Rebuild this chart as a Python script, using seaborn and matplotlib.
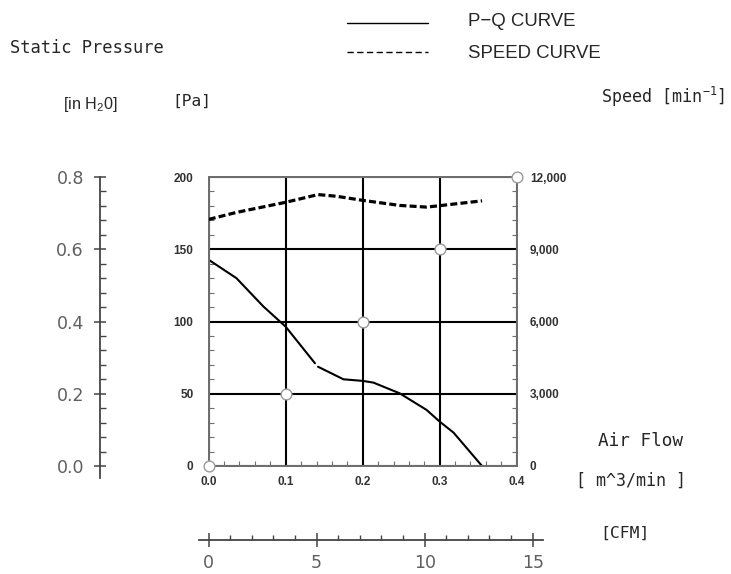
import numpy as np
import pandas as pd
import seaborn as sns
import matplotlib
matplotlib.use("Agg")
import matplotlib.pyplot as plt
from matplotlib.lines import Line2D
from matplotlib.ticker import MultipleLocator, FixedLocator, StrMethodFormatter

# P-Q curve (air flow m^3/min -> static pressure Pa), drawn in two pieces (small gap near 0.14)
pq_flow_a = [0.0, 0.036, 0.071, 0.100, 0.138]
pq_pa_a = [142.7, 130.0, 110.4, 96.4, 71.1]
pq_flow_b = [0.142, 0.175, 0.200, 0.214, 0.248, 0.283, 0.300, 0.318, 0.355]
pq_pa_b = [68.7, 60.0, 58.9, 57.7, 50.3, 38.8, 30.7, 23.1, 0.0]

# speed curve (air flow -> rpm)
speed_flow = [0.0, 0.036, 0.100, 0.142, 0.166, 0.200, 0.248, 0.283, 0.300, 0.355]
speed_rpm = [10240, 10530, 10950, 11270, 11200, 11030, 10820, 10750, 10810, 11010]

# open circles on the grid
circle_flow = [0.0, 0.1, 0.2, 0.3, 0.4]
circle_pa = [0, 50, 100, 150, 200]

pa_ticks = [0, 50, 100, 150, 200]
flow_ticks = [0.0, 0.1, 0.2, 0.3, 0.4]
rpm_ticks = [0, 3000, 6000, 9000, 12000]
inh2o_ticks = [0.0, 0.2, 0.4, 0.6, 0.8]
cfm_ticks = [0, 5, 10, 15]

W, H = 731, 574
sns.set_style("white")
plt.rcParams["mathtext.fontset"] = "custom"
plt.rcParams["mathtext.rm"] = "Liberation Sans"

fig = plt.figure(figsize=(W / 100, H / 100), dpi=100)


def fx(px):
    return px / W


def fy(py):
    return 1 - py / H


pq = pd.DataFrame({
    "flow": pq_flow_a + pq_flow_b,
    "pa": pq_pa_a + pq_pa_b,
    "seg": [0] * len(pq_flow_a) + [1] * len(pq_flow_b),
})
sp = pd.DataFrame({"flow": speed_flow, "rpm": speed_rpm})
circ = pd.DataFrame({"flow": circle_flow, "pa": circle_pa})

# main chart
ax = fig.add_axes([fx(208.7), fy(466), 308 / W, 289 / H])
ax.set_xlim(0, 0.4)
ax.set_ylim(0, 200)
ax.xaxis.set_major_locator(FixedLocator(flow_ticks))
ax.yaxis.set_major_locator(FixedLocator(pa_ticks))
ax.xaxis.set_major_formatter(StrMethodFormatter("{x:.1f}"))
ax.xaxis.set_minor_locator(MultipleLocator(0.02))
ax.yaxis.set_minor_locator(MultipleLocator(10))
ax.grid(True, which="major", color="black", linewidth=1.5)
ax.set_axisbelow(True)
for s in ax.spines.values():
    s.set_color("#6e6e6e")
    s.set_linewidth(1.4)
ax.tick_params(which="major", length=0, labelsize=8.5, labelcolor="#333333")
ax.tick_params(axis="y", which="major", pad=11)
ax.tick_params(axis="x", which="major", pad=7)
ax.tick_params(which="minor", direction="in", length=3.4, width=0.8, color="#6e6e6e",
               left=True, bottom=True, top=False, right=False)
for lab in ax.get_xticklabels() + ax.get_yticklabels():
    lab.set_fontweight("bold")
    lab.set_family("Liberation Sans")

sns.lineplot(data=pq, x="flow", y="pa", units="seg", estimator=None, color="black",
             linewidth=1.5, legend=False, ax=ax, zorder=3)
ax.set_xlabel("")
ax.set_ylabel("")

ax2 = ax.twinx()
ax2.set_ylim(0, 12000)
ax2.yaxis.set_major_locator(FixedLocator(rpm_ticks))
ax2.yaxis.set_major_formatter(StrMethodFormatter("{x:,.0f}"))
ax2.yaxis.set_minor_locator(MultipleLocator(600))
for s in ax2.spines.values():
    s.set_color("#6e6e6e")
    s.set_linewidth(1.4)
ax2.tick_params(which="major", length=0, labelsize=8.5, labelcolor="#333333", pad=9.5)
ax2.tick_params(which="minor", direction="in", length=3.4, width=0.8, color="#6e6e6e",
                right=True)
sns.lineplot(data=sp, x="flow", y="rpm", color="black", linewidth=2.3, legend=False,
             ax=ax2, zorder=3)
ax2.lines[-1].set_dashes((2.2, 1.0))
ax2.grid(False)
for lab in ax2.get_yticklabels():
    lab.set_fontweight("bold")
    lab.set_family("Liberation Sans")

sns.scatterplot(data=circ, x="flow", y="pa", ax=ax2, s=60, color="white",
                edgecolor="#9a9a9a", linewidth=1.0, clip_on=False, zorder=5, legend=False,
                transform=ax.transData)
ax2.set_ylabel("")
ax2.set_xlabel("")

# left inch H2O scale
axl = fig.add_axes([fx(100), fy(478), 0.001, 301 / H])
axl.set_ylim(-0.0332, 0.8)
axl.set_xticks([])
for k in ["top", "right", "bottom"]:
    axl.spines[k].set_visible(False)
axl.spines["left"].set_color("#444444")
axl.spines["left"].set_linewidth(1.3)
axl.yaxis.set_major_locator(FixedLocator(inh2o_ticks))
axl.yaxis.set_major_formatter(StrMethodFormatter("{x:.1f}"))
axl.yaxis.set_minor_locator(MultipleLocator(0.04))
axl.tick_params(axis="y", which="major", direction="inout", length=9.2, width=1.1, left=True,
                color="#444444", labelsize=12.5, labelcolor="#5f5f5f", pad=7)
axl.tick_params(axis="y", which="minor", direction="in", length=4.3, width=1.0, left=True,
                color="#444444")
axl.patch.set_visible(False)

# bottom CFM scale
axb = fig.add_axes([fx(199), fy(540), 344 / W, 0.001])
axb.set_xlim(-0.449, 15.48)
axb.set_yticks([])
for k in ["top", "right", "left"]:
    axb.spines[k].set_visible(False)
axb.spines["bottom"].set_color("#444444")
axb.spines["bottom"].set_linewidth(1.3)
axb.xaxis.set_major_locator(FixedLocator(cfm_ticks))
axb.xaxis.set_minor_locator(MultipleLocator(1))
axb.tick_params(axis="x", which="major", direction="inout", length=10, width=1.1, bottom=True,
                color="#444444", labelsize=12.5, labelcolor="#5f5f5f", pad=5)
axb.tick_params(axis="x", which="minor", direction="in", length=3.5, width=1.0, bottom=True,
                color="#444444")
axb.patch.set_visible(False)

# legend drawn by hand
fig.add_artist(Line2D([fx(347), fx(428)], [fy(23), fy(23)], color="black", linewidth=1.0))
dash_line = Line2D([fx(347), fx(428)], [fy(52), fy(52)], color="black", linewidth=1.0)
dash_line.set_dashes((4.5, 2.5))
fig.add_artist(dash_line)
fig.text(fx(468), fy(22), "P\u2212Q CURVE", fontsize=13.4, family="Liberation Sans",
         va="center", ha="left")
fig.text(fx(468), fy(53), "SPEED CURVE", fontsize=13.4, family="Liberation Sans",
         va="center", ha="left")

mono = "DejaVu Sans Mono"
fig.text(fx(10), fy(48), "Static Pressure", fontsize=12.3, family=mono, va="center", ha="left")
fig.text(fx(63), fy(104), r"[in H$_\mathregular{2}$0]", fontsize=11.6, family="Liberation Sans",
         va="center", ha="left")
fig.text(fx(172), fy(101), "[Pa]", fontsize=11.7, family=mono, va="center", ha="left")
fig.text(fx(725), fy(97), r"Speed [min$^{\mathregular{-1}}$]", fontsize=12.1, family=mono,
         va="center", ha="right")
fig.text(fx(640), fy(441), "Air Flow", fontsize=12.8, family=mono, va="center", ha="center")
fig.text(fx(631), fy(481), "[ m^3/min ]", fontsize=12.0, family=mono, va="center", ha="center")
fig.text(fx(625), fy(533), "[CFM]", fontsize=11.8, family=mono, va="center", ha="center")

fig.savefig("out.png", dpi=100, facecolor="white")
